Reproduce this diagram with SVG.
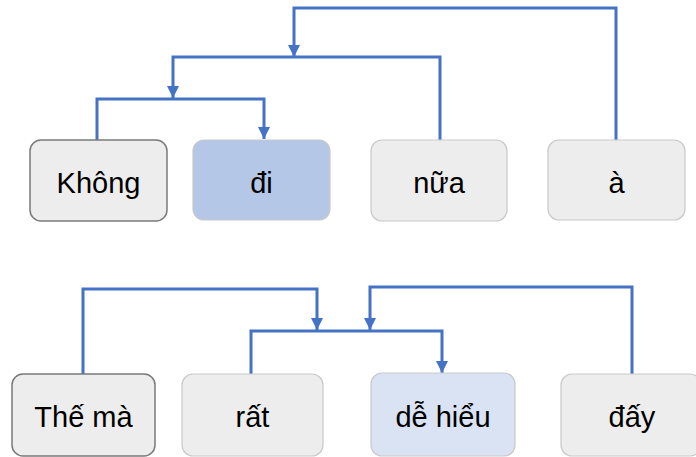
<svg xmlns="http://www.w3.org/2000/svg" width="696" height="457" viewBox="0 0 696 457">
<style>
.box{stroke:#c9c9c9;stroke-width:1.2;fill:#ededed}
.dark{stroke:#7a7a7a;stroke-width:1.5}
.blue{fill:#b4c7e7}
.lblue{fill:#dae3f3}
.t{font-family:"Liberation Sans",Arial,sans-serif;font-size:29px;fill:#000;text-anchor:middle}
.c{fill:none;stroke:#4472c4;stroke-width:3}
</style>
<defs>
<marker id="a" viewBox="0 0 10 10" refX="10" refY="5" markerWidth="4" markerHeight="4" orient="auto" markerUnits="strokeWidth">
<path d="M0,0 L10,5 L0,10 z" fill="#4472c4"/>
</marker>
</defs>
<g id="connectors">
<path class="c" d="M97,140 V99 H264 V139" marker-end="url(#a)"/>
<path class="c" d="M440,140 V57 H173 V98" marker-end="url(#a)"/>
<path class="c" d="M616,140 V8 H294 V57" marker-end="url(#a)"/>
<path class="c" d="M83,374 V289 H317 V330" marker-end="url(#a)"/>
<path class="c" d="M251,374 V331 H442 V373" marker-end="url(#a)"/>
<path class="c" d="M632,374 V287 H370 V330" marker-end="url(#a)"/>
</g>
<g id="n-khong"><rect class="box dark" x="30" y="140" width="137" height="81" rx="11"/><text class="t" x="98.5" y="193">Không</text></g>
<g id="n-di"><rect class="box blue" x="193" y="140" width="137" height="80" rx="11"/><text class="t" x="261.5" y="193">đi</text></g>
<g id="n-nua"><rect class="box" x="371" y="140" width="136" height="81" rx="11"/><text class="t" x="439" y="193">nữa</text></g>
<g id="n-a"><rect class="box" x="548" y="140" width="137" height="80" rx="11"/><text class="t" x="616.5" y="193">à</text></g>
<g id="n-theMa"><rect class="box dark" x="12" y="374" width="143" height="82" rx="11"/><text class="t" x="83.5" y="427">Thế mà</text></g>
<g id="n-rat"><rect class="box" x="182" y="374" width="141" height="82" rx="11"/><text class="t" x="252.5" y="427">rất</text></g>
<g id="n-deHieu"><rect class="box lblue" x="371" y="373" width="144" height="83" rx="11"/><text class="t" x="443" y="427">dễ hiểu</text></g>
<g id="n-day"><rect class="box" x="561" y="374" width="140" height="82" rx="11"/><text class="t" x="632" y="427">đấy</text></g>
</svg>
